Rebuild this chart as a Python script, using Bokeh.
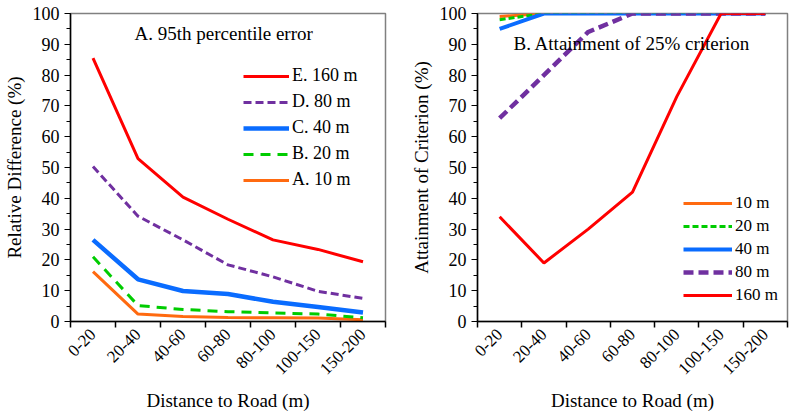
from bokeh.plotting import figure
from bokeh.models import (Range1d, FixedTicker, SingleIntervalTicker, Legend, LegendItem, Label)
from bokeh.layouts import row
from bokeh.embed import file_html
from bokeh.resources import INLINE

categories = ["0-20", "20-40", "40-60", "60-80", "80-100", "100-150", "150-200"]

# Panel A: 95th percentile relative difference (%)
a_10m = [16.2, 2.4, 1.6, 1.3, 1.2, 1.1, 0.6]
a_20m = [21.0, 5.2, 3.9, 3.2, 2.8, 2.4, 1.2]
a_40m = [26.5, 13.7, 9.9, 8.9, 6.4, 4.7, 2.9]
a_80m = [50.3, 34.2, 26.5, 18.4, 14.5, 9.8, 7.5]
a_160m = [85.5, 52.9, 40.4, 33.2, 26.5, 23.4, 19.4]

# Panel B: attainment of 25% criterion (%)
b_10m = [99.0, 100, 100, 100, 100, 100, 100]
b_20m = [98.0, 100, 100, 100, 100, 100, 100]
b_40m = [95.0, 100, 100, 100, 100, 100, 100]
b_80m = [66.0, 80.0, 94.0, 100, 100, 100, 100]
b_160m = [34.0, 19.0, 30.0, 42.0, 73.0, 100, 100]

FONT = "Liberation Serif"
ORANGE = "#FF6A10"
GREEN = "#00CC00"
BLUE = "#0A6CFF"
PURPLE = "#7030A0"
RED = "#FF0000"

xs = list(range(len(categories)))


def base_fig(width, border_left, border_right, ylabel):
    p = figure(width=width, height=416, output_backend="svg", toolbar_location=None,
               x_range=Range1d(-0.5, len(categories) - 0.5), y_range=Range1d(0, 100),
               min_border_left=border_left, min_border_right=border_right,
               min_border_top=13, min_border_bottom=95)
    p.grid.visible = False
    p.outline_line_color = "#808080"
    p.outline_line_width = 1.5
    p.background_fill_color = "white"
    p.border_fill_color = "white"

    xa = p.xaxis[0]
    xa.ticker = FixedTicker(ticks=xs, minor_ticks=[i - 0.5 for i in range(len(categories) + 1)])
    xa.major_label_overrides = {i: c for i, c in zip(xs, categories)}
    xa.major_label_orientation = 0.785398
    xa.major_tick_out = 0
    xa.major_tick_in = 0
    xa.minor_tick_out = 6
    xa.minor_tick_in = 0
    xa.axis_line_color = "black"
    xa.axis_line_width = 1.5
    xa.minor_tick_line_color = "black"
    xa.minor_tick_line_width = 1.5
    xa.major_label_text_font = FONT
    xa.major_label_text_font_size = "17px"
    xa.major_label_text_color = "black"
    xa.major_label_standoff = 4
    xa.axis_label = "Distance to Road (m)"
    xa.axis_label_text_font = FONT
    xa.axis_label_text_font_size = "19px"
    xa.axis_label_text_font_style = "normal"
    xa.axis_label_text_color = "black"
    xa.axis_label_standoff = 8

    ya = p.yaxis[0]
    ya.ticker = SingleIntervalTicker(interval=10, num_minor_ticks=2)
    ya.major_tick_out = 6
    ya.major_tick_in = 0
    ya.minor_tick_out = 4
    ya.minor_tick_in = 0
    ya.axis_line_color = "black"
    ya.axis_line_width = 1.5
    ya.major_tick_line_color = "black"
    ya.minor_tick_line_color = "black"
    ya.major_label_text_font = FONT
    ya.major_label_text_font_size = "18px"
    ya.major_label_text_color = "black"
    ya.major_label_standoff = 5
    ya.axis_label = ylabel
    ya.axis_label_text_font = FONT
    ya.axis_label_text_font_size = "19px"
    ya.axis_label_text_font_style = "normal"
    ya.axis_label_text_color = "black"
    ya.axis_label_standoff = 5
    return p


# ---- Panel A ----
pa = base_fig(403, 69, 18, "Relative Difference (%)")
ra1 = pa.line(xs, a_10m, line_color=ORANGE, line_width=3)
ra2 = pa.line(xs, a_20m, line_color=GREEN, line_width=3, line_dash="10 7")
ra3 = pa.line(xs, a_40m, line_color=BLUE, line_width=4.5)
ra4 = pa.line(xs, a_80m, line_color=PURPLE, line_width=3, line_dash="8 4")
ra5 = pa.line(xs, a_160m, line_color=RED, line_width=3)

leg_a = Legend(items=[
    LegendItem(label="E. 160 m", renderers=[ra5]),
    LegendItem(label="D. 80 m", renderers=[ra4]),
    LegendItem(label="C. 40 m", renderers=[ra3]),
    LegendItem(label="B. 20 m", renderers=[ra2]),
    LegendItem(label="A. 10 m", renderers=[ra1]),
], location=(173, 131), orientation="vertical")
leg_a.glyph_width = 46
leg_a.glyph_height = 20
leg_a.label_height = 20
leg_a.spacing = 5
leg_a.padding = 0
leg_a.margin = 0
leg_a.label_standoff = 3
leg_a.border_line_color = None
leg_a.background_fill_alpha = 0
leg_a.label_text_font = FONT
leg_a.label_text_font_size = "18px"
leg_a.label_text_color = "black"
pa.add_layout(leg_a, "center")

pa.add_layout(Label(x=64, y=288, x_units="screen", y_units="screen",
                    text="A. 95th percentile error", text_font=FONT,
                    text_font_size="19px", text_color="black", text_baseline="middle"))

# ---- Panel B ----
pb = base_fig(397, 74, 13, "Attainment of Criterion (%)")
rb1 = pb.line(xs, b_10m, line_color=ORANGE, line_width=3)
rb2 = pb.line(xs, b_20m, line_color=GREEN, line_width=3, line_dash="6 3")
rb3 = pb.line(xs, b_40m, line_color=BLUE, line_width=4)
rb4 = pb.line(xs, b_80m, line_color=PURPLE, line_width=4.5, line_dash="10 5")
rb5 = pb.line(xs, b_160m, line_color=RED, line_width=3)

leg_b = Legend(items=[
    LegendItem(label="10 m", renderers=[rb1]),
    LegendItem(label="20 m", renderers=[rb2]),
    LegendItem(label="40 m", renderers=[rb3]),
    LegendItem(label="80 m", renderers=[rb4]),
    LegendItem(label="160 m", renderers=[rb5]),
], location=(206, 16), orientation="vertical")
leg_b.glyph_width = 49
leg_b.glyph_height = 18
leg_b.label_height = 18
leg_b.spacing = 3
leg_b.padding = 0
leg_b.margin = 0
leg_b.label_standoff = 3
leg_b.border_line_color = None
leg_b.background_fill_alpha = 0
leg_b.label_text_font = FONT
leg_b.label_text_font_size = "17px"
leg_b.label_text_color = "black"
pb.add_layout(leg_b, "center")

pb.add_layout(Label(x=36, y=278, x_units="screen", y_units="screen",
                    text="B. Attainment of 25% criterion", text_font=FONT,
                    text_font_size="19px", text_color="black", text_baseline="middle"))

layout = row(pa, pb)
open("out.html", "w").write(file_html(layout, INLINE))
